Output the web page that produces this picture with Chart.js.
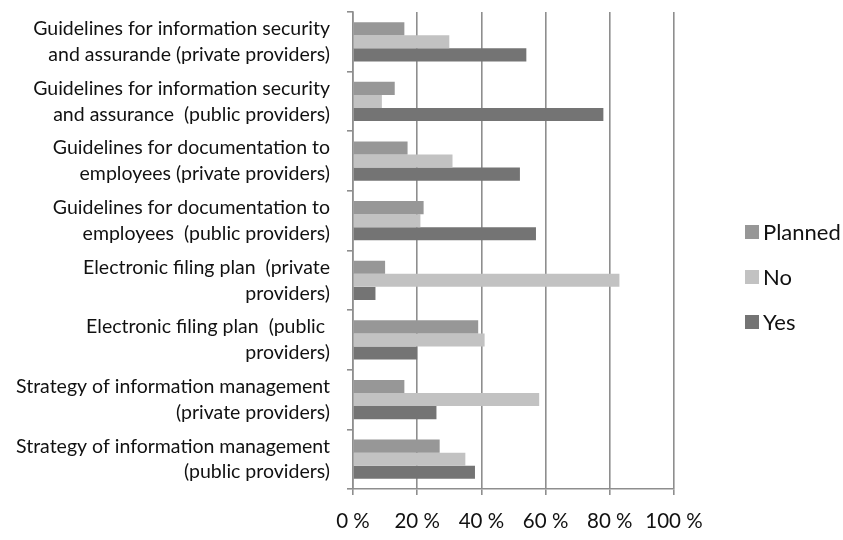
<!DOCTYPE html>
<html>
<head>
<meta charset="utf-8">
<script src="https://cdn.jsdelivr.net/npm/chart.js@4/dist/chart.umd.min.js"></script>
<style>
  html, body { margin: 0; padding: 0; background: #fff; }
  #wrap { width: 843px; height: 540px; }
</style>
</head>
<body>
<div id="wrap"><canvas id="chart"></canvas></div>
<script>
// categories, top to bottom
const categories = [
  ['Guidelines for information security', 'and assurande (private providers)'],
  ['Guidelines for information security', 'and assurance  (public providers)'],
  ['Guidelines for documentation to', 'employees (private providers)'],
  ['Guidelines for documentation to', 'employees  (public providers)'],
  ['Electronic filing plan  (private', 'providers)'],
  ['Electronic filing plan  (public ', 'providers)'],
  ['Strategy of information management', '(private providers)'],
  ['Strategy of information management', '(public providers)']
]

// percent values
const planned = [16, 13, 17, 22, 10, 39, 16, 27]
const no = [30, 9, 31, 21, 83, 41, 58, 35]
const yes = [54, 78, 52, 57, 7, 20, 26, 38]

const xTicks = [0, 20, 40, 60, 80, 100]

const FONT = 'Lato, "Open Sans", sans-serif'
const GRID = '#8e8e8e'

// simple legend on the right, drawn from the datasets
const sideLegend = {
  id: 'sideLegend',
  afterDraw(chart) {
    const ctx = chart.ctx
    const items = chart.data.datasets
    ctx.save()
    ctx.font = '22px ' + FONT
    ctx.textBaseline = 'middle'
    items.forEach((ds, i) => {
      const y = 232 + i * 45
      ctx.fillStyle = ds.backgroundColor
      ctx.fillRect(745, y - 7, 14, 14)
      ctx.fillStyle = '#111'
      ctx.fillText(ds.label, 763, y + 1)
    })
    ctx.restore()
  }
}

const ctx = document.getElementById('chart').getContext('2d')
new Chart(ctx, {
  type: 'bar',
  data: {
    labels: categories,
    datasets: [
      { label: 'Planned', data: planned, backgroundColor: '#979797' },
      { label: 'No', data: no, backgroundColor: '#c2c2c2' },
      { label: 'Yes', data: yes, backgroundColor: '#747474' }
    ]
  },
  options: {
    indexAxis: 'y',
    responsive: true,
    maintainAspectRatio: false,
    animation: false,
    layout: { padding: { top: 12, right: 169, left: 0, bottom: 0 } },
    datasets: {
      bar: { categoryPercentage: 0.66, barPercentage: 1 }
    },
    plugins: {
      legend: { display: false },
      tooltip: { enabled: false }
    },
    scales: {
      x: {
        min: 0,
        max: 100,
        afterBuildTicks: (scale) => { scale.ticks = xTicks.map(v => ({ value: v })) },
        afterFit: (scale) => {
          scale.height = 51
          scale.paddingLeft = 0
          scale.paddingRight = 0
        },
        grid: { color: GRID, lineWidth: 1.6, tickLength: 6 },
        border: { color: GRID, width: 1.6 },
        ticks: {
          padding: 14,
          color: '#111',
          font: { family: FONT, size: 20.5 },
          callback: (v) => v + ' %'
        }
      },
      y: {
        afterFit: (scale) => {
          scale.width = 353
          scale.paddingTop = 0
          scale.paddingBottom = 0
        },
        grid: { drawOnChartArea: false, color: GRID, lineWidth: 1.6, tickLength: 6, offset: true },
        border: { color: GRID, width: 1.6 },
        ticks: {
          padding: 17,
          color: '#111',
          font: { family: FONT, size: 19.5, lineHeight: 1.33 }
        }
      }
    }
  },
  plugins: [sideLegend]
})
</script>
</body>
</html>
